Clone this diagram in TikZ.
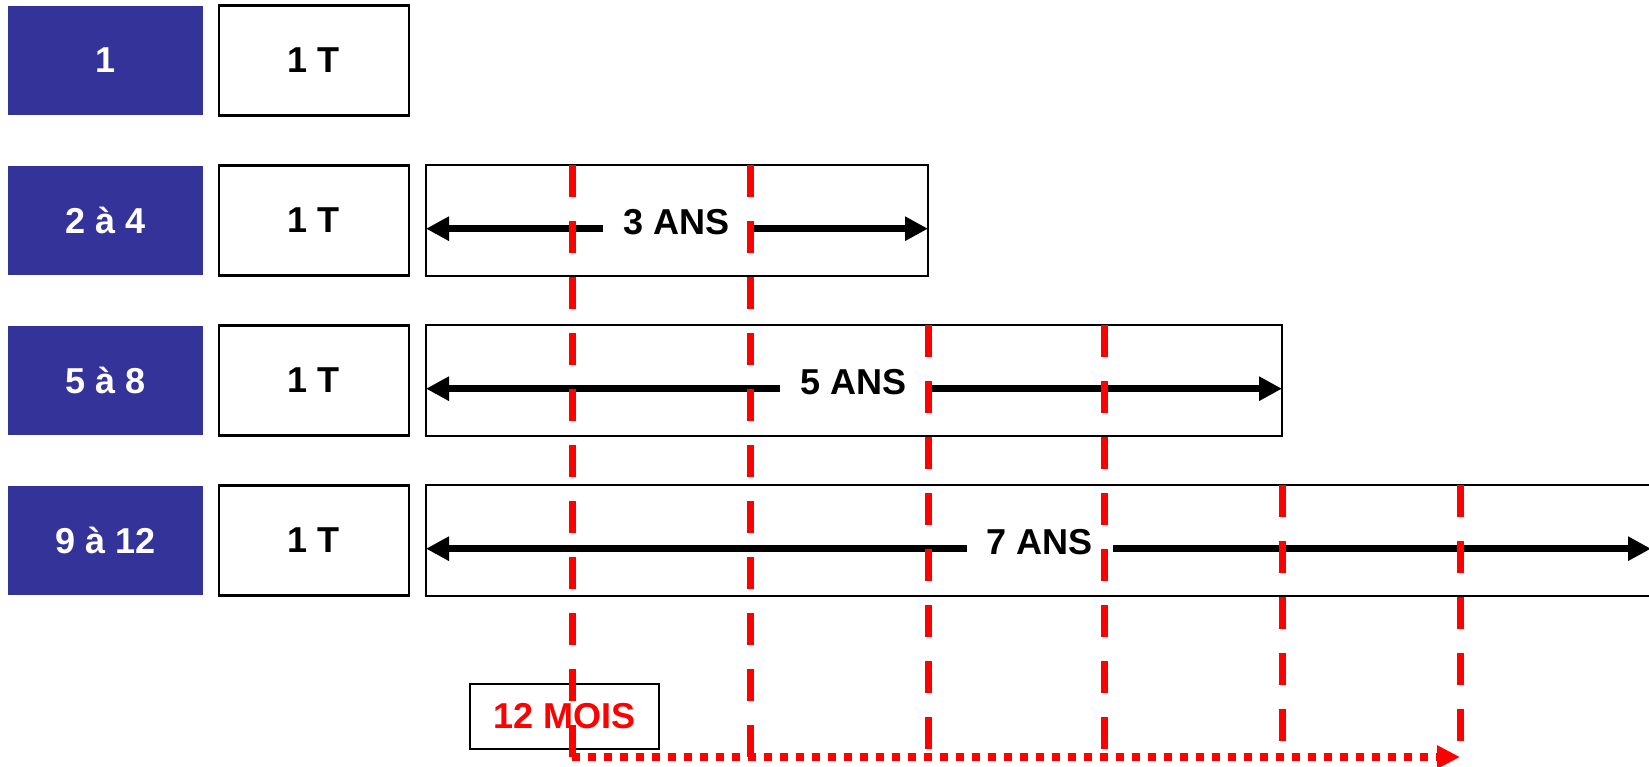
\documentclass[tikz,border=0pt]{standalone}
\usepackage{fontspec}
\setmainfont{Liberation Sans}
\usetikzlibrary{positioning,arrows.meta,calc}
\definecolor{gruppe}{RGB}{51,51,153}
\tikzset{
rowbox/.style={
  fill=gruppe,
  text=white,
  minimum width=3.9cm,
  minimum height=2.18cm,
  inner sep=0pt
  },
tbox/.style={
  draw,
  line width=1.4pt,
  minimum width=3.8cm,
  minimum height=2.2cm,
  inner sep=0pt
  },
spanbox/.style={
  draw,
  line width=1pt,
  minimum height=2.22cm,
  anchor=west,
  outer sep=0pt,
  inner sep=0pt
  },
anslabel/.style={text depth=0.28cm, inner xsep=0.4cm, inner ysep=0pt},
ansarrow/.style={line width=0.14cm, -{Triangle[length=0.46cm,width=0.46cm]}},
moisline/.style={draw=red, line width=0.14cm, dash pattern=on 0.64cm off 0.48cm},
moisarrow/.style={draw=red, line width=0.17cm, dash pattern=on 0.16cm off 0.16cm,
  -{Triangle[length=0.46cm,width=0.44cm,fill=red]}}
}

\begin{document}
\begin{tikzpicture}[font=\fontsize{20.5}{24}\selectfont\bfseries]
  \useasboundingbox (0,0) rectangle (32.98,-15.34);

  \node[rowbox] (grp1) at (2.11,-1.21)  {1};
  \node[rowbox] (grp2) at (2.11,-4.41)  {2 à 4};
  \node[rowbox] (grp3) at (2.11,-7.61)  {5 à 8};
  \node[rowbox] (grp4) at (2.11,-10.81) {9 à 12};

  \node[tbox] (t1) at (6.28,-1.21)  {1 T};
  \node[tbox] (t2) at (6.28,-4.41)  {1 T};
  \node[tbox] (t3) at (6.28,-7.61)  {1 T};
  \node[tbox] (t4) at (6.28,-10.81) {1 T};

  \node[spanbox, minimum width=10.04cm] (span2) at (8.52,-4.41)  {};
  \node[spanbox, minimum width=17.12cm] (span3) at (8.52,-7.61)  {};
  \node[spanbox, minimum width=24.5cm]  (span4) at (8.52,-10.81) {};

  \node[anslabel] (ans3) at (13.53,-4.574)  {3 ANS};
  \node[anslabel] (ans5) at (17.07,-7.774)  {5 ANS};
  \node[anslabel] (ans7) at (20.8,-10.974)  {7 ANS};

  \draw[ansarrow] (ans3.west) -- (ans3.west -| span2.west);
  \draw[ansarrow] (ans3.east) -- (ans3.east -| span2.east);
  \draw[ansarrow] (ans5.west) -- (ans5.west -| span3.west);
  \draw[ansarrow] (ans5.east) -- (ans5.east -| span3.east);
  \draw[ansarrow] (ans7.west) -- (ans7.west -| span4.west);
  \draw[ansarrow] (ans7.east) -- (ans7.east -| span4.east);

  \node[draw, line width=0.8pt, text=red, minimum width=3.78cm, minimum height=1.3cm, inner sep=0pt]
    (mois) at (11.29,-14.33) {12 MOIS};

  \coordinate (m1) at (11.44,-15.14);
  \coordinate (m2) at (15.0,-15.14);
  \coordinate (m3) at (18.56,-15.14);
  \coordinate (m4) at (22.08,-15.14);
  \coordinate (m5) at (25.64,-15.14);
  \coordinate (m6) at (29.2,-15.14);

  \draw[moisline] (m1 |- span2.north) -- (m1);
  \draw[moisline] (m2 |- span2.north) -- (m2);
  \draw[moisline] (m3 |- span3.north) -- (m3);
  \draw[moisline] (m4 |- span3.north) -- (m4);
  \draw[moisline] (m5 |- span4.north) -- (m5);
  \draw[moisline] (m6 |- span4.north) -- (m6);

  \draw[moisarrow] (m1) -- (m6);

\end{tikzpicture}
\end{document}
